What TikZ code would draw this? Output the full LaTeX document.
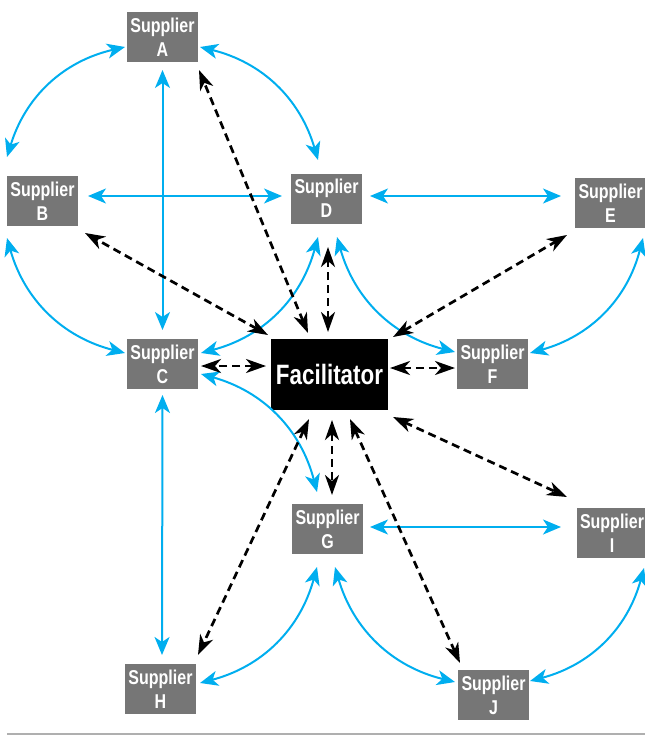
\documentclass[tikz,border=0pt]{standalone}
\usepackage{fontspec}
\newfontfamily\condfont[FakeStretch=0.8]{Liberation Sans}
\usetikzlibrary{arrows.meta,calc}
\definecolor{supgray}{RGB}{118,118,118}
\definecolor{linkblue}{RGB}{0,174,239}
\definecolor{rulegray}{RGB}{175,175,175}
\begin{document}
\begin{tikzpicture}[x=1pt,y=1pt,
  supplier/.style={fill=supgray, text=white, minimum width=71pt, minimum height=50pt,
    inner sep=0pt, align=center, font=\condfont\bfseries\fontsize{20}{24}\selectfont},
  facil/.style={fill=black, text=white, minimum width=117pt, minimum height=71pt,
    inner sep=0pt, font=\condfont\bfseries\fontsize{28}{30}\selectfont},
  bluelink/.style={draw=linkblue, line width=2pt,
    {Stealth[length=18pt,width=15pt,inset=5pt]}-{Stealth[length=18pt,width=15pt,inset=5pt]}},
  dashlink/.style={draw=black, line width=2.7pt, dash pattern=on 8pt off 5pt,
    {Stealth[length=20pt,width=14pt,inset=6pt]}-{Stealth[length=20pt,width=14pt,inset=6pt]}},
  bottomrule/.style={draw=rulegray, line width=1.5pt}
]
\useasboundingbox (0,0) rectangle (645,-736);

\node[supplier] (A) at (162.5,-37)  {Supplier\\A};
\node[supplier] (B) at (42.5,-201)  {Supplier\\B};
\node[supplier] (C) at (162.5,-364) {Supplier\\C};
\node[supplier] (D) at (326.5,-198.5) {Supplier\\D};
\node[supplier] (E) at (610.5,-203) {Supplier\\E};
\node[supplier] (F) at (492.5,-364) {Supplier\\F};
\node[supplier] (G) at (327.5,-529) {Supplier\\G};
\node[supplier] (I) at (612,-533)   {Supplier\\I};
\node[supplier] (H) at (160.5,-689) {Supplier\\H};
\node[supplier] (J) at (493.5,-695) {Supplier\\J};
\node[facil] (X) at (329.5,-374.5) {Facilitator};

% blue supplier links
\draw[bluelink] ($(A.center)+(-37.5,-10)$) to[bend right=30] ($(B.center)+(-35.5,44)$);
\draw[bluelink] ($(A.center)+(37.5,-10)$) to[bend left=30] ($(D.center)+(-8.5,38.5)$);
\draw[bluelink] ($(A.center)+(0,-33)$) -- ($(C.center)+(0,34)$);
\draw[bluelink] ($(B.center)+(45.5,5)$) -- ($(D.center)+(-44.5,2.5)$);
\draw[bluelink] ($(D.center)+(43.5,2.5)$) -- ($(E.center)+(-49.5,7)$);
\draw[bluelink] ($(B.center)+(-35.5,-37)$) to[bend right=30] ($(C.center)+(-37.5,11)$);
\draw[bluelink] ($(C.center)+(38.5,11)$) to[bend right=30] ($(D.center)+(-8.5,-38.5)$);
\draw[bluelink] ($(D.center)+(10.5,-38.5)$) to[bend right=30] ($(F.center)+(-37.5,12)$);
\draw[bluelink] ($(E.center)+(32.5,-35)$) to[bend left=30] ($(F.center)+(37.5,11)$);
\draw[bluelink] ($(C.center)+(38.5,-10)$) to[bend left=30] ($(G.center)+(-10.5,37)$);
\draw[bluelink] ($(C.center)+(0,-31)$) -- ($(H.center)+(1.5,34)$);
\draw[bluelink] ($(G.center)+(42.5,2)$) -- ($(I.center)+(-51,6)$);
\draw[bluelink] ($(G.center)+(-10.5,-38)$) to[bend left=30] ($(H.center)+(39.5,6)$);
\draw[bluelink] ($(G.center)+(7.5,-38)$) to[bend right=30] ($(J.center)+(-38.5,13)$);
\draw[bluelink] ($(I.center)+(32,-35)$) to[bend left=30] ($(J.center)+(36.5,14)$);

% dashed facilitator links
\draw[dashlink] ($(X.center)+(-21.5,41.5)$) -- ($(A.center)+(36.5,-33)$);
\draw[dashlink] ($(X.center)+(-61.5,39.5)$) -- ($(B.center)+(42.5,-32)$);
\draw[dashlink] ($(X.center)+(-1.5,42.5)$) -- ($(D.center)+(1.5,-48.5)$);
\draw[dashlink] ($(X.center)+(63.5,37.5)$) -- ($(E.center)+(-43.5,-32)$);
\draw[dashlink] ($(X.center)+(-63.5,8.5)$) -- ($(C.center)+(38.5,-2)$);
\draw[dashlink] ($(X.center)+(60.5,6.5)$) -- ($(F.center)+(-37.5,-4)$);
\draw[dashlink] ($(X.center)+(2.5,-45.5)$) -- ($(G.center)+(4.5,34)$);
\draw[dashlink] ($(X.center)+(-20.5,-44.5)$) -- ($(H.center)+(37.5,34)$);
\draw[dashlink] ($(X.center)+(20.5,-44.5)$) -- ($(J.center)+(-33.5,32)$);
\draw[dashlink] ($(X.center)+(63.5,-42.5)$) -- ($(I.center)+(-45,36)$);

\coordinate (ruleL) at (7,-734);
\coordinate (ruleR) at (645,-734);
\draw[bottomrule] (ruleL) -- (ruleR);
\end{tikzpicture}
\end{document}
